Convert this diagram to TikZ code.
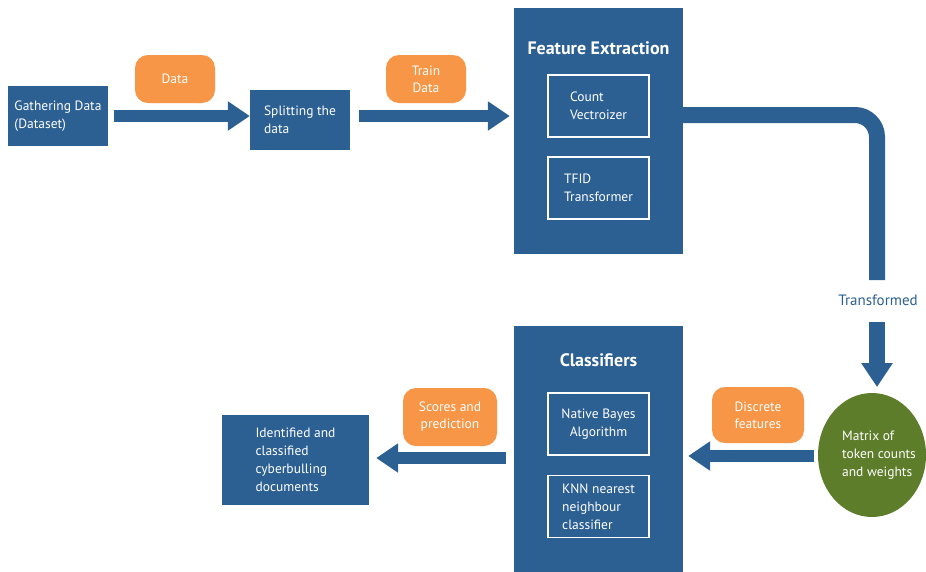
\documentclass[tikz,border=0pt]{standalone}
\usepackage{fontspec}
\setmainfont{PT Sans}
\usetikzlibrary{arrows.meta,shapes.geometric}
\definecolor{boxblue}{RGB}{44,96,146}
\definecolor{tagorange}{RGB}{247,150,70}
\definecolor{olive}{RGB}{94,125,42}
\tikzset{
  bluebox/.style={fill=boxblue, draw=none, text=white, minimum width=#1, font=\fontsize{13.5}{18}\selectfont, align=left, inner sep=0pt},
  innerbox/.style={draw=white, line width=1.6pt, fill=boxblue, text=white, minimum width=101pt, minimum height=62pt, font=\fontsize{13.5}{18}\selectfont, inner sep=0pt},
  tag/.style={fill=tagorange, draw=none, rounded corners=13pt, text=white, font=\fontsize{13.5}{17}\selectfont, align=center, inner sep=0pt},
  bigarrow/.style={boxblue, line width=12pt, -{Triangle[width=28pt,length=22pt]}},
  title/.style={text=white, font=\fontsize{18}{20}\selectfont\bfseries},
}
\begin{document}
\begin{tikzpicture}[x=1pt,y=-1pt]
\useasboundingbox (0,0) rectangle (926,571);
\fill[white] (0,0) rectangle (926,571);

% top row
\node[bluebox=100pt, minimum height=60pt] (gather) at (58,116) {Gathering Data\\(Dataset)};
\node[bluebox=100pt, minimum height=60pt] (split) at (300,120) {Splitting the\\data};
\node[tag, minimum width=80pt, minimum height=48pt] (data) at (175,79) {Data};
\node[tag, minimum width=80pt, minimum height=48pt] (train) at (426,79) {Train\\Data};

% feature extraction
\node[fill=boxblue, minimum width=169pt, minimum height=246pt, inner sep=0pt] (fe) at (598.5,131) {};
\node[title] (fetitle) at (598.5,48) {Feature Extraction};
\node[innerbox, align=left] (count) at (598.5,106) {Count\\Vectroizer};
\node[innerbox, align=left] (tfid) at (598.5,188) {TFID\\Transformer};

\coordinate (a1s) at (114,116);
\draw[bigarrow] (a1s) -- (split.west |- a1s);
\coordinate (a2s) at (359,116);
\draw[bigarrow, shorten >=4pt] (a2s) -- (fe.west |- a2s);

% pipe
\coordinate (pipeend) at (877,280);
\draw[boxblue, line width=16pt, rounded corners=22pt] (fe.east |- 0,115) -- (877,115) -- (pipeend);

\node[text=boxblue, font=\fontsize{15}{17}\selectfont] (trans) at (878,300) {Transformed};

% matrix ellipse
\node[ellipse, fill=olive, minimum width=108pt, minimum height=124pt, inner sep=0pt] (matrix) at (872,455) {};
\node[text=white, font=\fontsize{13.5}{18}\selectfont, align=left] (mtext) at (879,455) {Matrix of\\token counts\\and weights};

\coordinate (a3s) at (877,322);
\draw[boxblue, line width=16pt, -{Triangle[width=30pt,length=24pt]}] (a3s) -- (877,387);

% classifiers
\node[fill=boxblue, minimum width=169pt, minimum height=250pt, inner sep=0pt] (cl) at (598.5,451) {};
\node[title] (cltitle) at (598.5,360) {Classifiers};
\node[innerbox, align=center] (nb) at (598.5,424) {Native Bayes\\Algorithm};
\node[innerbox, align=left] (knn) at (598.5,506.5) {KNN nearest\\neighbour\\classifier};

\node[tag, minimum width=92pt, minimum height=56pt] (disc) at (758,415) {Discrete\\features};
\coordinate (a4s) at (814,456);
\draw[bigarrow, shorten >=5pt] (a4s) -- (cl.east |- a4s);

% output
\node[bluebox=147pt, minimum height=90pt] (ident) at (295.5,460) {Identified and\\classified\\cyberbulling\\documents};
\node[tag, minimum width=94pt, minimum height=58pt] (scores) at (450,417) {Scores and\\prediction};
\coordinate (a5s) at (506,458);
\draw[bigarrow, shorten >=7pt] (a5s) -- (ident.east |- a5s);
\end{tikzpicture}
\end{document}
